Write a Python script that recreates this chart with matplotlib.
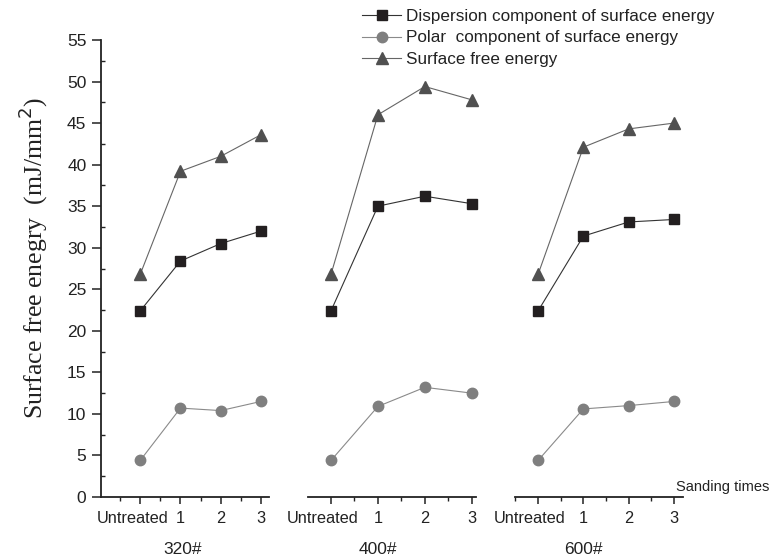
import matplotlib
matplotlib.use("Agg")
import matplotlib.pyplot as plt
import matplotlib.transforms as mtransforms
from matplotlib.ticker import MultipleLocator
from matplotlib.lines import Line2D

groups = ["320#", "400#", "600#"]
x_labels = ["Untreated", "1", "2", "3"]
x_pos = [0, 1, 2, 3]

dispersion = [
    [22.4, 28.4, 30.5, 32.0],
    [22.4, 35.0, 36.2, 35.3],
    [22.4, 31.4, 33.1, 33.4],
]
polar = [
    [4.4, 10.7, 10.4, 11.5],
    [4.4, 10.9, 13.2, 12.5],
    [4.4, 10.6, 11.0, 11.5],
]
total = [
    [26.8, 39.2, 41.0, 43.6],
    [26.8, 46.0, 49.4, 47.8],
    [26.8, 42.1, 44.3, 45.0],
]
series_names = ["Dispersion component of surface energy",
                "Polar  component of surface energy",
                "Surface free energy"]

plt.rcParams['font.family'] = ['Liberation Sans', 'DejaVu Sans']

W, H = 772, 557
fig = plt.figure(figsize=(W/100, H/100), dpi=100)

panels = [(101, 269, -0.975, 3.2), (308, 476, -0.49, 3.09), (515, 683, -0.51, 3.2)]
ybot, ytop = 497, 40
TXT = '#222222'
for i, (x0, x1, xl, xr) in enumerate(panels):
    ax = fig.add_axes([x0/W, 1-ybot/H, (x1-x0)/W, (ybot-ytop)/H])
    ax.plot(x_pos, dispersion[i], color='#333333', lw=0.8, marker='s', ms=6.5,
            mfc='#231f20', mec='#231f20', zorder=3, clip_on=False)
    ax.plot(x_pos, polar[i], color='#8a8a8a', lw=0.8, marker='o', ms=7.5,
            mfc='#7f7f7f', mec='#7f7f7f', zorder=3, clip_on=False)
    ax.plot(x_pos, total[i], color='#666666', lw=0.8, marker='^', ms=8,
            mfc='#505050', mec='#505050', zorder=3, clip_on=False)
    ax.set_xlim(xl, xr)
    ax.set_ylim(0, 55)
    ax.set_xticks(x_pos)
    ax.set_xticklabels(x_labels, fontsize=11.8, color=TXT)
    ax.xaxis.set_minor_locator(MultipleLocator(0.5))
    ax.tick_params(axis='x', which='major', direction='out', length=5, width=1.1, pad=5, color=TXT)
    ax.tick_params(axis='x', which='minor', direction='out', length=3, width=1.0, color=TXT)
    for s in ['top', 'right']:
        ax.spines[s].set_visible(False)
    ax.spines['bottom'].set_linewidth(1.3)
    ax.spines['bottom'].set_color(TXT)
    ax.patch.set_alpha(0)
    if i == 0:
        ax.set_yticks(range(0, 56, 5))
        ax.yaxis.set_minor_locator(MultipleLocator(2.5))
        ax.tick_params(axis='y', which='major', direction='out', length=6.5, width=1.1,
                       labelsize=12.5, labelcolor=TXT, pad=4, color=TXT)
        ax.tick_params(axis='y', which='minor', direction='in', length=3, width=1.0, color=TXT)
        ax.spines['left'].set_linewidth(1.3)
        ax.spines['left'].set_color(TXT)
    else:
        ax.spines['left'].set_visible(False)
        ax.set_yticks([])
        ax.tick_params(axis='y', which='both', left=False, labelleft=False)
    # the "Untreated" label sits slightly left of its tick in the reference
    lab = ax.xaxis.get_major_ticks()[0].label1
    lab.set_transform(lab.get_transform() + mtransforms.ScaledTranslation(-8/100, 0, fig.dpi_scale_trans))

centers = [183, 378, 583]
for c, g in zip(centers, groups):
    fig.text(c/W, 1-549/H, g, ha='center', va='center', fontsize=12.5, color=TXT)

fig.text(676/W, 1-487/H, "Sanding times", ha='left', va='center', fontsize=10.5, color=TXT)

fig.text(33/W, 1-258/H, "Surface free enegry  (mJ/mm$^2$)", rotation=90, ha='center', va='center',
         fontsize=18.5, family='Liberation Serif', color=TXT)

handles = [
    Line2D([], [], color='#333333', lw=0.8, marker='s', ms=6.5, mfc='#231f20', mec='#231f20'),
    Line2D([], [], color='#8a8a8a', lw=0.8, marker='o', ms=7.5, mfc='#7f7f7f', mec='#7f7f7f'),
    Line2D([], [], color='#666666', lw=0.8, marker='^', ms=8, mfc='#505050', mec='#505050'),
]
leg = fig.legend(handles, series_names, loc='upper left', bbox_to_anchor=(362/W, 1 - 9/H),
                 frameon=False, fontsize=12.3, handlelength=2.3, handletextpad=0.3,
                 labelspacing=0.38, borderaxespad=0, borderpad=0)
for t in leg.get_texts():
    t.set_color(TXT)

fig.savefig("out.png", dpi=100)
